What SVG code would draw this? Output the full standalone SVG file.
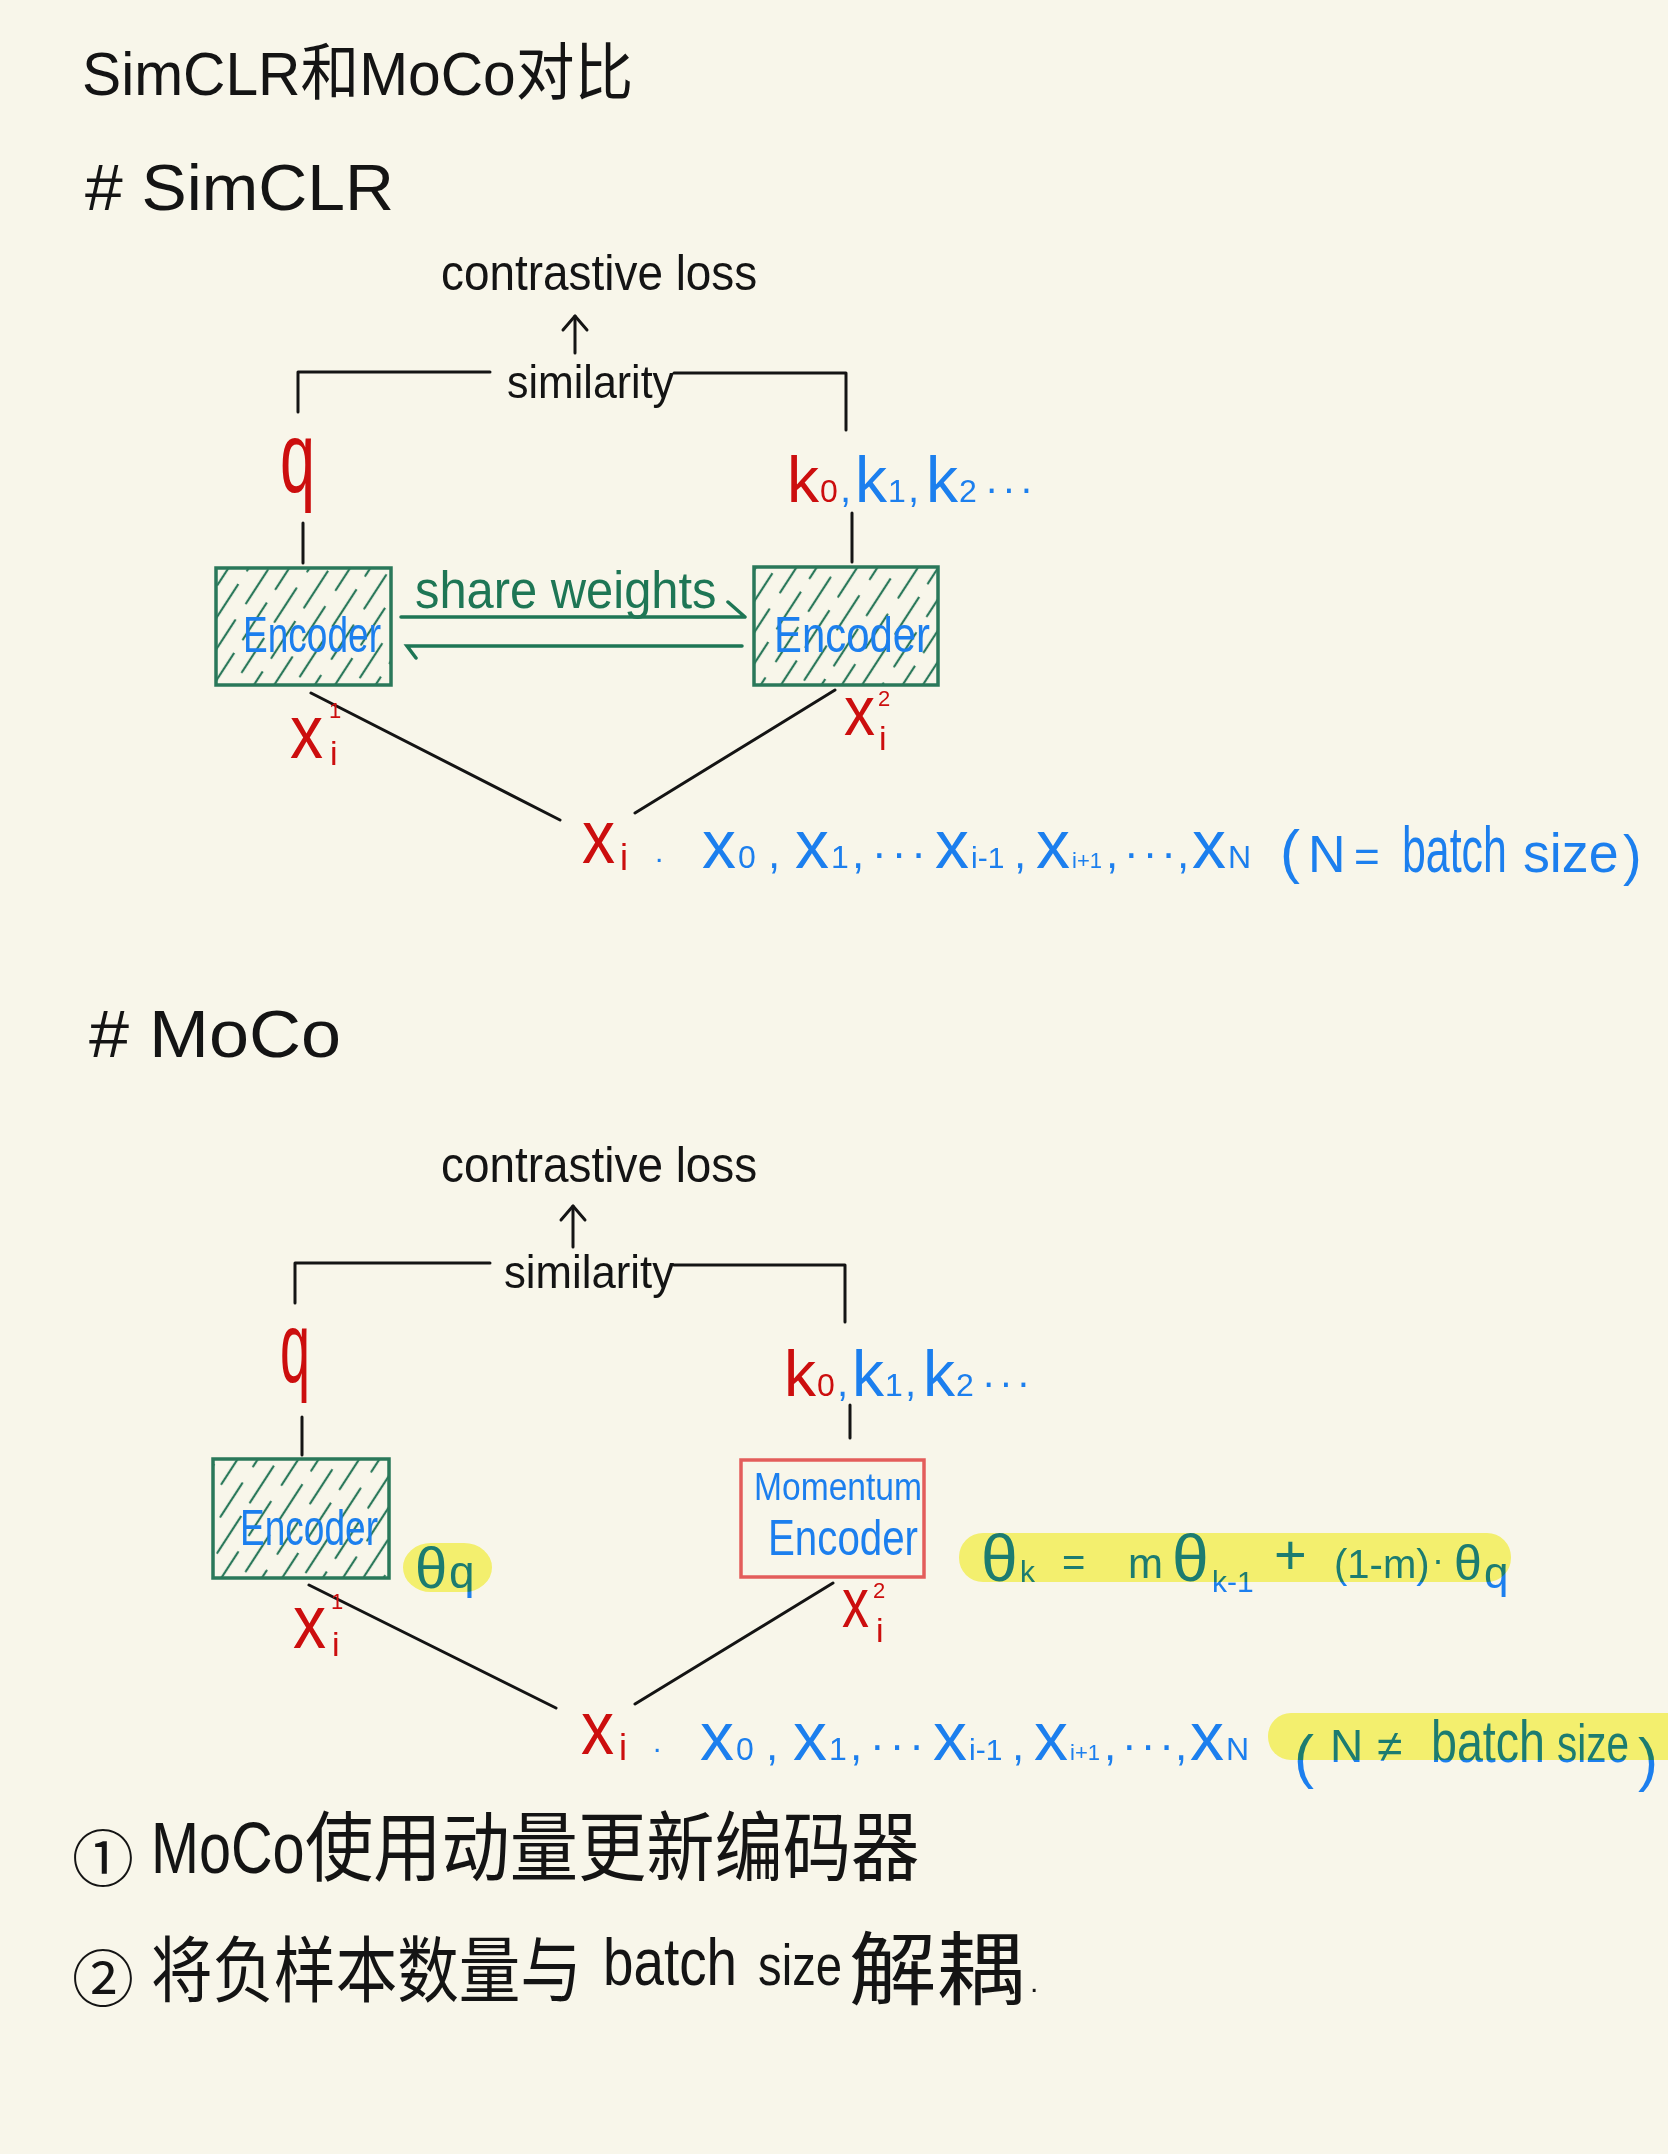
<svg xmlns="http://www.w3.org/2000/svg" width="1668" height="2154" viewBox="0 0 1668 2154">
<defs>
<style>
.t{font-family:'Liberation Sans','Noto Sans CJK SC',sans-serif;}
.c{font-family:'Liberation Sans','Noto Sans CJK SC',sans-serif;}
.k{fill:#141414}
.r{fill:#CC0E0E}
.b{fill:#1C7FEE}
.g{fill:#1E7655}
.ln{stroke:#141414;stroke-width:3;fill:none;stroke-linecap:round;stroke-linejoin:round}
.gl{stroke:#1E7655;stroke-width:3.5;fill:none;stroke-linecap:round}
.box{stroke:#2A785A;stroke-width:3.5;fill:url(#hatch)}
.mbox{stroke:#E35D5B;stroke-width:3.5;fill:none}
.hl{fill:#FAF878;mix-blend-mode:multiply}
</style>
<pattern id="hatch" width="34" height="60" patternUnits="userSpaceOnUse" patternTransform="rotate(33)">
<line x1="8" y1="0" x2="8" y2="60" stroke="#2A785A" stroke-width="2.2" stroke-dasharray="44 16" stroke-linecap="round"/>
<line x1="25" y1="0" x2="25" y2="60" stroke="#2A785A" stroke-width="2.2" stroke-dasharray="40 20" stroke-dashoffset="28" stroke-linecap="round"/>
</pattern>
<marker id="head" viewBox="-17 -15 20 30" refX="0" refY="0" markerWidth="20" markerHeight="30" markerUnits="userSpaceOnUse" orient="auto">
<path d="M-14,-12 L0,0 L-14,12" fill="none" stroke="#141414" stroke-width="3" stroke-linecap="round" stroke-linejoin="round"/>
</marker>
</defs>
<rect width="1668" height="2154" fill="#F8F6EA"/>

<g id="titles">
<text class="t k" transform="translate(82,95) scale(0.947,1)" font-size="62">SimCLR和MoCo对比</text>
<text class="t k" x="85" y="210" font-size="64" textLength="309" lengthAdjust="spacingAndGlyphs"># SimCLR</text>
<text class="t k" x="89" y="1057" font-size="66" textLength="252" lengthAdjust="spacingAndGlyphs"># MoCo</text>
</g>

<g id="connectors">
<line class="ln" x1="575" y1="353" x2="575" y2="316" marker-end="url(#head)"/>
<path class="ln" d="M298,412 V372 H490"/>
<path class="ln" d="M674,373 H846 V430"/>
<line class="ln" x1="303" y1="523" x2="303" y2="563"/>
<line class="ln" x1="852" y1="513" x2="852" y2="562"/>
<line class="ln" x1="311" y1="693" x2="560" y2="820" stroke-width="3.5"/>
<line class="ln" x1="835" y1="690" x2="635" y2="813" stroke-width="3.5"/>
<path class="gl" d="M401,617 H745 M728,602 L745,617"/>
<path class="gl" d="M742,646 H407 L416,658"/>
<line class="ln" x1="573" y1="1247" x2="573" y2="1206" marker-end="url(#head)"/>
<path class="ln" d="M295,1303 V1263 H490"/>
<path class="ln" d="M674,1265 H845 V1322"/>
<line class="ln" x1="302" y1="1417" x2="302" y2="1455"/>
<line class="ln" x1="850" y1="1405" x2="850" y2="1438"/>
<line class="ln" x1="309" y1="1585" x2="556" y2="1708" stroke-width="3.5"/>
<line class="ln" x1="833" y1="1583" x2="635" y2="1704" stroke-width="3.5"/>
</g>

<g id="simclr-loss">
<text class="t k" transform="translate(441,290) scale(0.918,1)" font-size="50">contrastive loss</text>
</g>
<g id="simclr-similarity">
<text class="t k" transform="translate(507,398) scale(0.934,1)" font-size="46">similarity</text>
</g>
<g id="simclr-q">
<text class="t r" transform="translate(280,492) scale(0.63,1)" font-size="100">q</text>
</g>
<g id="simclr-k">
<text class="t" y="502"><tspan class="r" x="787" font-size="64">k</tspan><tspan class="r" x="820" font-size="32">0</tspan><tspan class="b" x="840" font-size="40">,</tspan><tspan class="b" x="855" font-size="64">k</tspan><tspan class="b" x="888" font-size="32">1</tspan><tspan class="b" x="908" font-size="40">,</tspan><tspan class="b" x="926" font-size="64">k</tspan><tspan class="b" x="959" font-size="32">2</tspan><tspan class="b" x="985" font-size="40" letter-spacing="4">···</tspan></text>
</g>
<g id="simclr-encoder-left">
<rect class="box" x="216" y="568" width="175" height="117"/>
<text class="t b" transform="translate(243,652) scale(0.741,1)" font-size="50">Encoder</text>
</g>
<g id="simclr-encoder-right">
<rect class="box" x="754" y="567" width="184" height="118"/>
<text class="t b" transform="translate(774,652) scale(0.838,1)" font-size="50">Encoder</text>
</g>
<g id="simclr-share">
<text class="t g" transform="translate(415,608) scale(0.94,1)" font-size="52">share weights</text>
</g>
<g id="simclr-xi1">
<text class="t r" transform="translate(290,758) scale(0.87,1)" font-size="76">x</text>
<text class="t r" x="329" y="718" font-size="22">1</text>
<text class="t r" x="330" y="765" font-size="34">i</text>
</g>
<g id="simclr-xi2">
<text class="t r" transform="translate(844,735) scale(0.886,1)" font-size="70">x</text>
<text class="t r" x="878" y="706" font-size="22">2</text>
<text class="t r" x="879" y="750" font-size="34">i</text>
</g>
<g id="simclr-xi">
<text class="t r" transform="translate(582,863) scale(0.87,1)" font-size="76">x</text>
<text class="t r" x="620" y="870" font-size="36">i</text>
<text class="t b" x="655" y="862" font-size="30">.</text>
<text class="t b" y="868"><tspan x="702" font-size="68">x</tspan><tspan x="738" font-size="32">0</tspan><tspan x="768" font-size="44">,</tspan><tspan x="795" font-size="68">x</tspan><tspan x="831" font-size="32">1</tspan><tspan x="852" font-size="44">,</tspan><tspan x="872" font-size="44" letter-spacing="5">···</tspan><tspan x="935" font-size="68">x</tspan><tspan x="971" font-size="30">i-1</tspan><tspan x="1014" font-size="44">,</tspan><tspan x="1036" font-size="68">x</tspan><tspan x="1072" font-size="22">i+1</tspan><tspan x="1106" font-size="44">,</tspan><tspan x="1124" font-size="44" letter-spacing="4">···</tspan><tspan x="1177" font-size="44">,</tspan><tspan x="1192" font-size="68">x</tspan><tspan x="1228" font-size="32">N</tspan></text>
<text class="t b" y="872"><tspan x="1280" font-size="60">(</tspan><tspan x="1308" font-size="52">N</tspan><tspan x="1354" font-size="44">=</tspan></text>
<text class="t b" transform="translate(1402,872) scale(0.67,1)" font-size="64">batch</text>
<text class="t b" transform="translate(1523,872) scale(0.96,1)" font-size="56">size</text>
<text class="t b" x="1623" y="874" font-size="56">)</text>
</g>

<g id="moco-loss">
<text class="t k" transform="translate(441,1182) scale(0.918,1)" font-size="50">contrastive loss</text>
</g>
<g id="moco-similarity">
<text class="t k" transform="translate(504,1288) scale(0.951,1)" font-size="46">similarity</text>
</g>
<g id="moco-q">
<text class="t r" transform="translate(280,1382) scale(0.54,1)" font-size="100">q</text>
</g>
<g id="moco-k">
<text class="t" y="1396"><tspan class="r" x="784" font-size="64">k</tspan><tspan class="r" x="817" font-size="32">0</tspan><tspan class="b" x="837" font-size="40">,</tspan><tspan class="b" x="852" font-size="64">k</tspan><tspan class="b" x="885" font-size="32">1</tspan><tspan class="b" x="905" font-size="40">,</tspan><tspan class="b" x="923" font-size="64">k</tspan><tspan class="b" x="956" font-size="32">2</tspan><tspan class="b" x="982" font-size="40" letter-spacing="4">···</tspan></text>
</g>
<g id="moco-encoder">
<rect class="box" x="213" y="1459" width="176" height="119"/>
<text class="t b" transform="translate(240,1545) scale(0.741,1)" font-size="50">Encoder</text>
</g>
<g id="moco-theta-q">
<text class="t b" y="1588"><tspan x="415" font-size="58">θ</tspan><tspan x="449" font-size="46">q</tspan></text>
<rect class="hl" x="403" y="1543" width="89" height="49" rx="28"/>
</g>
<g id="moco-momentum-encoder">
<rect class="mbox" x="741" y="1460" width="183" height="117"/>
<text class="t b" transform="translate(754,1500) scale(0.884,1)" font-size="38">Momentum</text>
<text class="t b" transform="translate(768,1555) scale(0.806,1)" font-size="50">Encoder</text>
</g>
<g id="moco-formula">
<text class="t b"><tspan x="981" y="1581" font-size="66">θ</tspan><tspan x="1020" y="1582" font-size="30">k</tspan><tspan x="1062" y="1576" font-size="40">=</tspan><tspan x="1128" y="1578" font-size="42">m</tspan><tspan x="1172" y="1581" font-size="66">θ</tspan><tspan x="1212" y="1592" font-size="30">k-1</tspan><tspan x="1274" y="1574" font-size="56">+</tspan><tspan x="1334" y="1578" font-size="40">(1-m)</tspan><tspan x="1432" y="1572" font-size="36">·</tspan><tspan x="1454" y="1580" font-size="50">θ</tspan><tspan x="1484" y="1588" font-size="44">q</tspan></text>
<rect class="hl" x="959" y="1533" width="552" height="49" rx="24"/>
</g>
<g id="moco-xi1">
<text class="t r" transform="translate(293,1648) scale(0.87,1)" font-size="76">x</text>
<text class="t r" x="331" y="1609" font-size="22">1</text>
<text class="t r" x="332" y="1656" font-size="34">i</text>
</g>
<g id="moco-xi2">
<text class="t r" transform="translate(842,1627) scale(0.77,1)" font-size="70">x</text>
<text class="t r" x="873" y="1598" font-size="22">2</text>
<text class="t r" x="876" y="1642" font-size="34">i</text>
</g>
<g id="moco-xi">
<text class="t r" transform="translate(581,1754) scale(0.87,1)" font-size="76">x</text>
<text class="t r" x="619" y="1760" font-size="36">i</text>
<text class="t b" x="653" y="1752" font-size="30">.</text>
<text class="t b" y="1760"><tspan x="700" font-size="68">x</tspan><tspan x="736" font-size="32">0</tspan><tspan x="766" font-size="44">,</tspan><tspan x="793" font-size="68">x</tspan><tspan x="829" font-size="32">1</tspan><tspan x="850" font-size="44">,</tspan><tspan x="870" font-size="44" letter-spacing="5">···</tspan><tspan x="933" font-size="68">x</tspan><tspan x="969" font-size="30">i-1</tspan><tspan x="1012" font-size="44">,</tspan><tspan x="1034" font-size="68">x</tspan><tspan x="1070" font-size="22">i+1</tspan><tspan x="1104" font-size="44">,</tspan><tspan x="1122" font-size="44" letter-spacing="4">···</tspan><tspan x="1175" font-size="44">,</tspan><tspan x="1190" font-size="68">x</tspan><tspan x="1226" font-size="32">N</tspan></text>
<text class="t b" x="1294" y="1777" font-size="60">(</text>
<text class="t b" y="1762"><tspan x="1330" font-size="46">N</tspan><tspan x="1377" font-size="46">≠</tspan></text>
<text class="t b" transform="translate(1431,1762) scale(0.777,1)" font-size="60">batch</text>
<text class="t b" transform="translate(1557,1762) scale(0.75,1)" font-size="54">size</text>
<text class="t b" x="1638" y="1780" font-size="60">)</text>
<rect class="hl" x="1268" y="1713" width="430" height="47" rx="23"/>
</g>

<g id="notes">
<text class="c k" x="72" y="1882" font-size="62">①</text>
<text class="t k" transform="translate(151,1873) scale(0.80,1)" font-size="72">MoCo</text>
<text class="c k" transform="translate(305,1875) scale(0.898,1)" font-size="76">使用动量更新编码器</text>
<text class="c k" x="72" y="2002" font-size="62">②</text>
<text class="c k" transform="translate(151,1996) scale(0.855,1)" font-size="72">将负样本数量与</text>
<text class="t k" transform="translate(603,1985) scale(0.83,1)" font-size="66">batch</text>
<text class="t k" transform="translate(758,1985) scale(0.815,1)" font-size="58">size</text>
<text class="c k" x="849" y="1998" font-size="80" textLength="175" lengthAdjust="spacingAndGlyphs">解耦</text>
<text class="t k" x="1030" y="1992" font-size="30">.</text>
</g>
</svg>
